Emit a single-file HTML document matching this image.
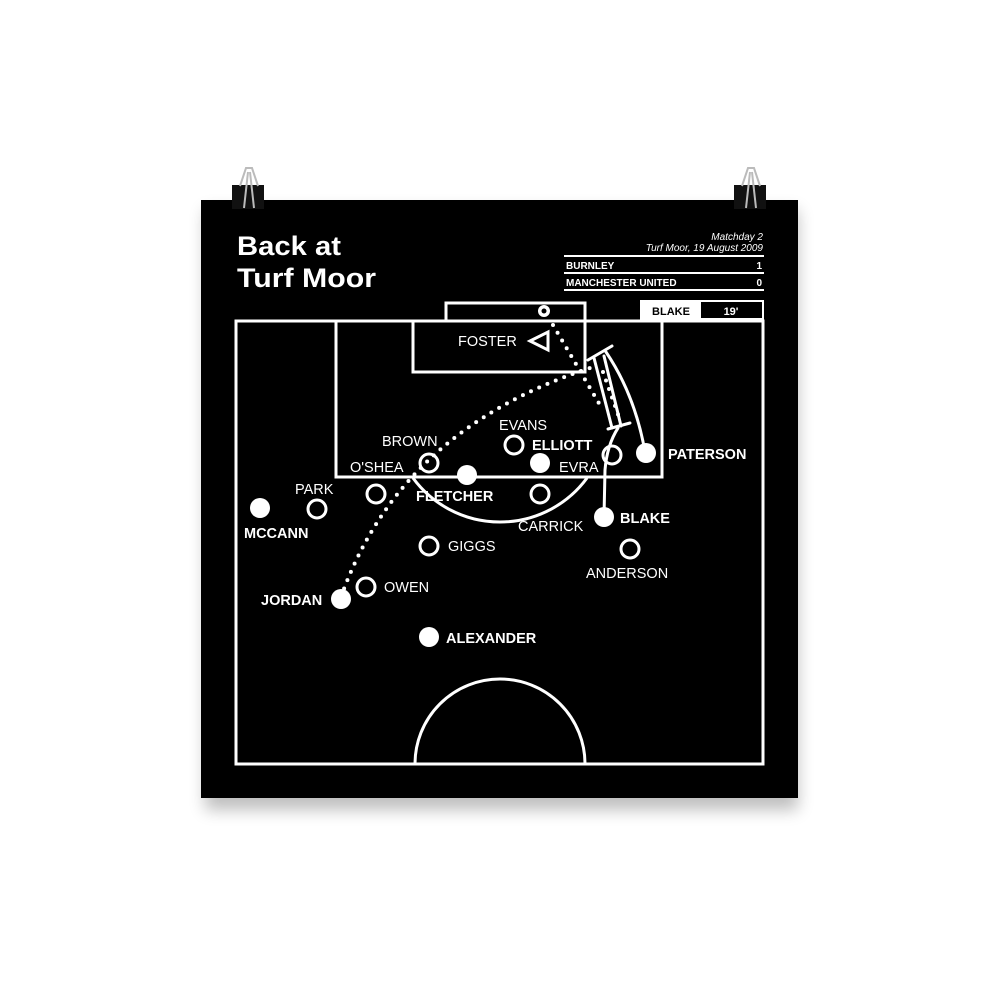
<!DOCTYPE html>
<html><head><meta charset="utf-8"><style>
html,body{margin:0;padding:0;background:#fff;width:1000px;height:1000px;overflow:hidden}
svg{display:block}
text{font-family:"Liberation Sans",sans-serif;fill:#fff}
</style></head><body>
<svg width="1000" height="1000" viewBox="0 0 1000 1000">
<defs><filter id="sh" x="-10%" y="-10%" width="120%" height="130%"><feGaussianBlur stdDeviation="8"/></filter></defs>
<rect x="205" y="210" width="593" height="600" fill="#000" opacity="0.25" filter="url(#sh)"/>
<rect x="201" y="200" width="597" height="598" fill="#000"/>
<g>
<rect x="232" y="185" width="32" height="24" fill="#111"/>
<path d="M240 186 L246 168 L252 168 L258 186 M244 208 L248 172 M254 208 L250 172" stroke="#bbb" stroke-width="2" fill="none"/>
<rect x="734" y="185" width="32" height="24" fill="#111"/>
<path d="M742 186 L748 168 L754 168 L760 186 M746 208 L750 172 M756 208 L752 172" stroke="#bbb" stroke-width="2" fill="none"/>
</g>
<text x="237" y="255" font-size="27" font-weight="bold" textLength="104" lengthAdjust="spacingAndGlyphs">Back at</text>
<text x="237" y="287" font-size="27" font-weight="bold" textLength="139" lengthAdjust="spacingAndGlyphs">Turf Moor</text>
<text x="763" y="240" font-size="10" font-style="italic" text-anchor="end">Matchday 2</text>
<text x="763" y="251" font-size="10" font-style="italic" text-anchor="end">Turf Moor, 19 August 2009</text>
<g stroke="#fff" stroke-width="2"><line x1="564" y1="256" x2="764" y2="256"/><line x1="564" y1="273" x2="764" y2="273"/><line x1="564" y1="290" x2="764" y2="290"/></g>
<text x="566" y="269" font-size="10" font-weight="bold">BURNLEY</text>
<text x="762" y="269" font-size="10" font-weight="bold" text-anchor="end">1</text>
<text x="566" y="286" font-size="10" font-weight="bold">MANCHESTER UNITED</text>
<text x="762" y="286" font-size="10" font-weight="bold" text-anchor="end">0</text>
<rect x="640" y="300" width="124" height="20" fill="#fff"/>
<rect x="701" y="302" width="61" height="16" fill="#000"/>
<text x="671" y="315" font-size="11" font-weight="bold" text-anchor="middle" style="fill:#000">BLAKE</text>
<text x="731" y="315" font-size="11" font-weight="bold" text-anchor="middle">19'</text>
<g fill="none" stroke="#fff" stroke-width="3">
<rect x="236" y="321" width="527" height="443"/>
<rect x="446" y="303" width="139" height="18"/>
<rect x="336" y="321" width="326" height="156"/>
<rect x="413" y="321" width="172" height="51"/>
<path d="M413 478 A 108 108 0 0 0 587 478"/>
<path d="M415 764 A 85 85 0 0 1 585 764"/>
</g>
<circle cx="544" cy="311" r="6" fill="#fff"/>
<circle cx="544" cy="311" r="2.5" fill="#000"/>
<path d="M530 341 L548 332 L548 350 Z" fill="none" stroke="#fff" stroke-width="3"/>
<g fill="none" stroke="#fff" stroke-linecap="round">
<path d="M341 597 Q 400 430 590 368" stroke-width="4" stroke-dasharray="0 9"/>
<path d="M553 325 L600 405" stroke-width="4" stroke-dasharray="0 9"/>
<path d="M603 372 L620 420" stroke-width="4" stroke-dasharray="0 9"/>
<path d="M604 517 L605 470 Q607 445 618 428" stroke-width="3"/>
<path d="M612 428 L594 358 M621 426 L604 356" stroke-width="3"/>
<path d="M608 429 L630 423 M588 360 L612 346" stroke-width="3"/>
<path d="M645 452 Q 635 395 606 352" stroke-width="3"/>
</g>
<g fill="#fff">
<circle cx="260" cy="508" r="10"/><circle cx="341" cy="599" r="10"/><circle cx="429" cy="637" r="10"/>
<circle cx="467" cy="475" r="10"/><circle cx="540" cy="463" r="10"/><circle cx="604" cy="517" r="10"/><circle cx="646" cy="453" r="10"/>
</g>
<g fill="none" stroke="#fff" stroke-width="3">
<circle cx="317" cy="509" r="9"/><circle cx="376" cy="494" r="9"/><circle cx="366" cy="587" r="9"/>
<circle cx="429" cy="546" r="9"/><circle cx="429" cy="463" r="9"/><circle cx="514" cy="445" r="9"/>
<circle cx="540" cy="494" r="9"/><circle cx="630" cy="549" r="9"/><circle cx="612" cy="455" r="9"/>
</g>
<g font-size="14.5">
<text x="458" y="346">FOSTER</text>
<text x="499" y="430">EVANS</text>
<text x="382" y="446">BROWN</text>
<text x="350" y="472">O'SHEA</text>
<text x="559" y="472">EVRA</text>
<text x="295" y="494">PARK</text>
<text x="518" y="531">CARRICK</text>
<text x="448" y="551">GIGGS</text>
<text x="384" y="592">OWEN</text>
<text x="586" y="578">ANDERSON</text>
</g>
<g font-size="14.5" font-weight="bold">
<text x="532" y="450">ELLIOTT</text>
<text x="668" y="459">PATERSON</text>
<text x="416" y="501">FLETCHER</text>
<text x="620" y="523">BLAKE</text>
<text x="244" y="538">MCCANN</text>
<text x="261" y="605">JORDAN</text>
<text x="446" y="643">ALEXANDER</text>
</g>
</svg>
</body></html>
